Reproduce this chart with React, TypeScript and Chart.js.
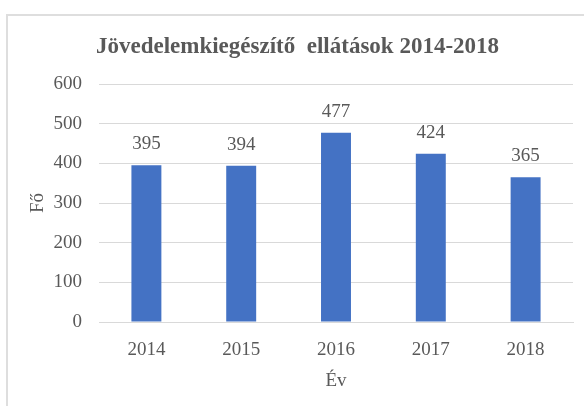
import { useEffect, useRef } from 'react';
import { Chart, registerables } from 'chart.js';

Chart.register(...registerables);

const categories = ['2014', '2015', '2016', '2017', '2018'];
const values = [395, 394, 477, 424, 365];
const yMin = 0;
const yMax = 600;
const yStep = 100;
const titleText = 'Jövedelemkiegészítő  ellátások 2014-2018';
const xTitle = 'Év';
const yTitle = 'Fő';

const TEXT = '#595959';
const GRID = '#d9d9d9';
const BAR = '#4472C4';
const FONT = '"Liberation Serif", "Times New Roman", serif';

const valueLabels = {
  id: 'valueLabels',
  afterDatasetsDraw(chart: any) {
    const ctx = chart.ctx;
    const meta = chart.getDatasetMeta(0);
    ctx.save();
    ctx.font = `19px ${FONT}`;
    ctx.fillStyle = TEXT;
    ctx.textAlign = 'center';
    ctx.textBaseline = 'middle';
    meta.data.forEach((bar: any, i: number) => {
      ctx.fillText(String(chart.data.datasets[0].data[i]), bar.x, bar.y - 21);
    });
    ctx.restore();
  },
};

export default function App() {
  const ref = useRef<HTMLCanvasElement | null>(null);

  useEffect(() => {
    document.body.style.margin = '0';
    if (!ref.current) return;
    const chart = new Chart(ref.current, {
      type: 'bar',
      data: {
        labels: categories,
        datasets: [
          {
            data: values,
            backgroundColor: BAR,
            borderWidth: 0,
            categoryPercentage: 1,
            barPercentage: 0.316,
          },
        ],
      },
      options: {
        animation: false,
        responsive: false,
        layout: { padding: { left: 22, right: 11, top: 20, bottom: 0 } },
        plugins: {
          legend: { display: false },
          tooltip: { enabled: false },
          title: {
            display: true,
            text: titleText,
            color: TEXT,
            font: { family: FONT, size: 23, weight: 'bold' },
            padding: { top: 13, bottom: 23.4 },
          },
        },
        scales: {
          x: {
            grid: { display: false },
            border: { display: true, color: GRID, width: 1 },
            ticks: {
              color: TEXT,
              font: { family: FONT, size: 19 },
              padding: 9,
              maxRotation: 0,
            },
            title: {
              display: true,
              text: xTitle,
              color: TEXT,
              font: { family: FONT, size: 19 },
              padding: { top: 0, bottom: 13.6 },
            },
            afterFit(scale: any) {
              scale.height = 84;
            },
          },
          y: {
            min: yMin,
            max: yMax,
            grid: { color: GRID, lineWidth: 1, drawTicks: false },
            border: { display: false },
            ticks: {
              stepSize: yStep,
              color: TEXT,
              font: { family: FONT, size: 19 },
              padding: 17,
            },
            title: {
              display: true,
              text: yTitle,
              color: TEXT,
              font: { family: FONT, size: 19 },
              padding: { top: 4.6, bottom: 0 },
            },
            afterFit(scale: any) {
              scale.width = 77;
            },
          },
        },
      },
      plugins: [valueLabels],
    });
    return () => chart.destroy();
  }, []);

  return (
    <div style={{ position: 'relative', width: 584, height: 406, overflow: 'hidden', background: '#fff' }}>
      <div
        style={{
          position: 'absolute',
          left: 6,
          top: 14,
          width: 700,
          height: 500,
          border: '2px solid #dedede',
          boxSizing: 'border-box',
        }}
      />
      <canvas ref={ref} width={584} height={406} style={{ position: 'absolute', left: 0, top: 0 }} />
    </div>
  );
}
